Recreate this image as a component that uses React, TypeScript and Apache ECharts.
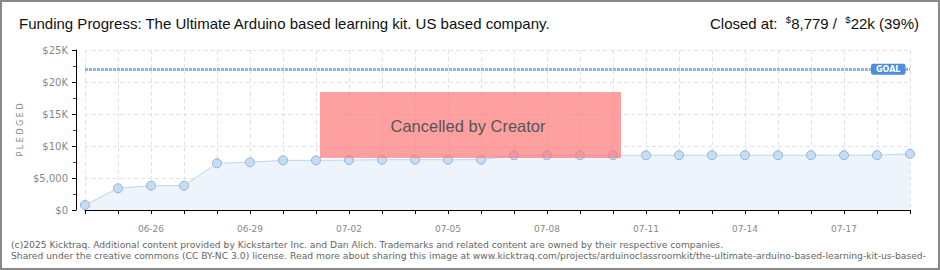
import React, { useEffect, useRef } from "react";
import * as echarts from "echarts";

const dates = [
  "06-24", "06-25", "06-26", "06-27", "06-28", "06-29", "06-30",
  "07-01", "07-02", "07-03", "07-04", "07-05", "07-06",
  "07-07", "07-08", "07-09", "07-10", "07-11", "07-12", "07-13",
  "07-14", "07-15", "07-16", "07-17", "07-18", "07-19",
];
const pledged = [
  780, 3390, 3800, 3800, 7300, 7450, 7760,
  7760, 7800, 7860, 7860, 7860, 7860,
  8550, 8550, 8550, 8550, 8550, 8560, 8560,
  8560, 8560, 8560, 8560, 8560, 8779,
];
const goal = 22000;
const yTicks = { min: 0, max: 25000, interval: 5000 };
const yLabels: Record<number, string> = {
  0: "$0", 5000: "$5,000", 10000: "$10K", 15000: "$15K", 20000: "$20K", 25000: "$25K",
};
const titleText = "Funding Progress: The Ultimate Arduino based learning kit. US based company.";
const footer1 =
  "(c)2025 Kicktraq. Additional content provided by Kickstarter Inc. and Dan Alich. Trademarks and related content are owned by their respective companies.";
const footer2 =
  "Shared under the creative commons (CC BY-NC 3.0) license. Read more about sharing this image at www.kicktraq.com/projects/arduinoclassroomkit/the-ultimate-arduino-based-learning-kit-us-based-";

const head = "'Liberation Sans', Arial, sans-serif";
const small = "'DejaVu Sans', Verdana, sans-serif";

export default function App() {
  const ref = useRef<HTMLDivElement>(null);
  useEffect(() => {
    document.body.style.margin = "0";
    const chart = echarts.init(ref.current!, null, { renderer: "svg" });
    chart.setOption({
      animation: false,
      backgroundColor: "#ffffff",
      grid: { left: 85, right: 30, top: 50, bottom: 60 },
      xAxis: {
        type: "category",
        data: dates,
        boundaryGap: false,
        offset: 9,
        axisLine: { lineStyle: { color: "#000", width: 1 } },
        axisTick: { show: true, length: 4, interval: 0, lineStyle: { color: "#000" } },
        axisLabel: {
          interval: (i: number) => (i - 2) % 3 === 0,
          color: "#888",
          fontFamily: small,
          fontSize: 9,
          margin: 5,
        },
        splitLine: {
          show: true,
          interval: 0,
          lineStyle: { color: "#e2e2e2", type: [4, 3] },
        },
      },
      yAxis: {
        type: "value",
        min: yTicks.min,
        max: yTicks.max,
        interval: yTicks.interval,
        offset: 9,
        axisLine: { show: true, lineStyle: { color: "#000" } },
        axisTick: { show: true, length: 4, lineStyle: { color: "#000" } },
        minorTick: { show: true, splitNumber: 2, length: 3, lineStyle: { color: "#e00000" } },
        axisLabel: {
          formatter: (v: number) => yLabels[v] ?? "",
          color: "#888",
          fontFamily: small,
          fontSize: 10,
          margin: 8,
        },
        splitLine: { show: true, lineStyle: { color: "#e2e2e2", type: [4, 3] } },
      },
      series: [
        {
          type: "line",
          data: pledged,
          symbol: "circle",
          symbolSize: 9,
          itemStyle: { color: "#c4dcf6", borderColor: "#93b3d8", borderWidth: 1 },
          lineStyle: { color: "#b8d5f4", width: 1 },
          areaStyle: { color: "#edf4fc", opacity: 1 },
          markLine: {
            silent: true,
            symbol: "none",
            data: [{ yAxis: goal }],
            lineStyle: { color: "#8db7ea", width: 3, type: [3, 1] },
            label: {
              show: true,
              position: "end",
              distance: -39,
              formatter: "GOAL",
              backgroundColor: "#4a8fdc",
              color: "#fff",
              fontFamily: small,
              fontSize: 8,
              fontWeight: "bold",
              padding: [2, 5, 1, 5],
              borderRadius: 2,
            },
            emphasis: { disabled: true },
          },
        },
      ],
      graphic: [
        {
          type: "rect",
          z: 100,
          shape: { x: 320, y: 92, width: 301, height: 66 },
          style: { fill: "rgba(255,120,120,0.7)" },
        },
        {
          type: "text",
          z: 101,
          x: 468,
          y: 126,
          style: {
            text: "Cancelled by Creator",
            fill: "#555",
            font: `16.5px ${head}`,
            align: "center",
            verticalAlign: "middle",
            textShadowColor: "rgba(255,255,255,0.9)",
            textShadowOffsetX: 1,
            textShadowOffsetY: 1,
            textShadowBlur: 0,
          },
        },
        {
          type: "text",
          x: 19,
          y: 23,
          style: {
            text: titleText,
            fill: "#111",
            font: `15px ${head}`,
            verticalAlign: "middle",
          },
        },
        {
          type: "text",
          x: 919,
          y: 23,
          style: {
            text: "{a|Closed at:  }{s|$}{a|8,779 /  }{s|$}{a|22k (39%)}",
            align: "right",
            verticalAlign: "middle",
            rich: {
              a: { font: `15px ${head}`, fill: "#111", lineHeight: 18 },
              s: { font: `9.5px ${head}`, fill: "#111", lineHeight: 18, verticalAlign: "top" },
            },
          },
        },
        {
          type: "text",
          x: 20,
          y: 130,
          rotation: Math.PI / 2,
          style: {
            text: "P L E D G E D",
            fill: "#888",
            font: `8px ${small}`,
            align: "center",
            verticalAlign: "middle",
          },
        },
        {
          type: "text",
          x: 11,
          y: 244,
          style: { text: footer1, fill: "#666", font: `9.2px ${small}`, verticalAlign: "middle" },
        },
        {
          type: "text",
          x: 11,
          y: 255,
          style: { text: footer2, fill: "#666", font: `9.2px ${small}`, verticalAlign: "middle" },
        },
        {
          type: "rect",
          z: 200,
          shape: { x: 1, y: 1, width: 938, height: 268 },
          style: { fill: "none", stroke: "#888", lineWidth: 2 },
        },
      ],
    });
    return () => chart.dispose();
  }, []);
  return <div ref={ref} style={{ width: 940, height: 270 }} />;
}
